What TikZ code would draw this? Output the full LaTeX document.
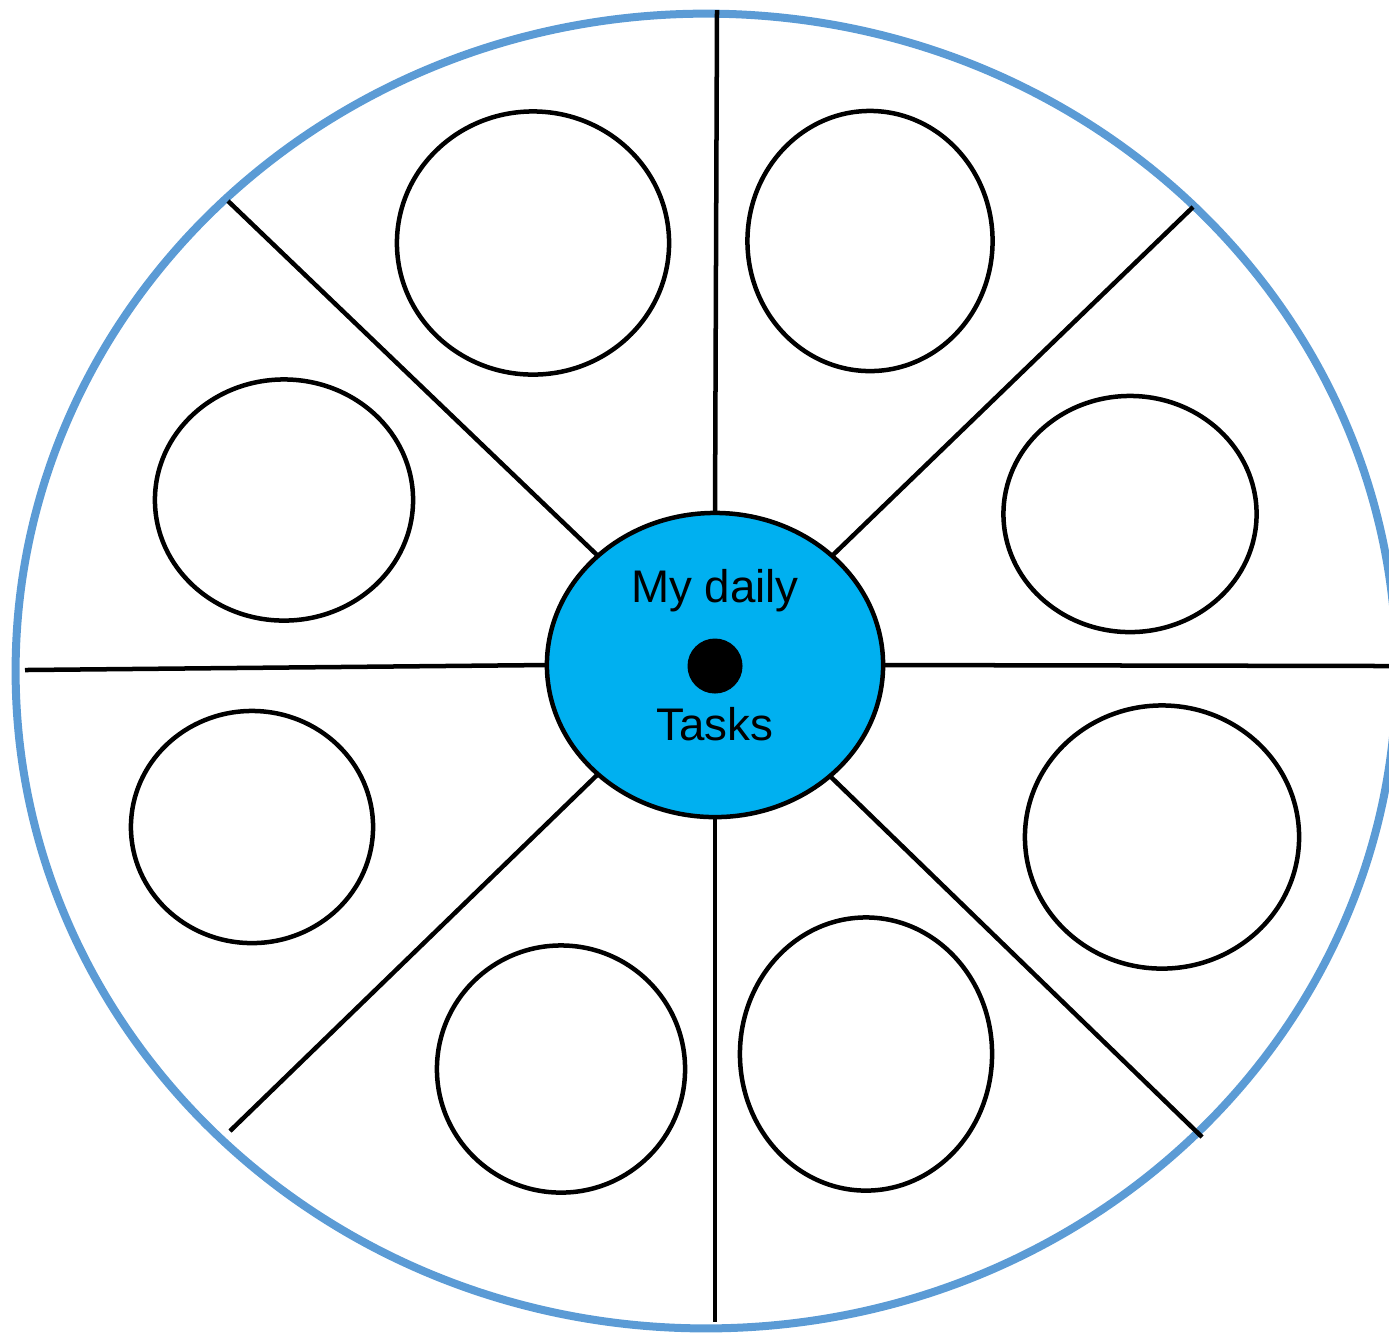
\documentclass[tikz,border=0pt]{standalone}
\usepackage{fontspec}
\setmainfont{Liberation Sans}
\usetikzlibrary{shapes.geometric}
\definecolor{rimblue}{HTML}{5B9BD5}
\definecolor{hubcyan}{HTML}{00B0F0}
\tikzset{
  slot/.style={ellipse, draw=black, line width=0.045cm, inner sep=0pt, outer sep=0pt},
  spoke/.style={draw=black, line width=0.045cm},
  hub/.style={ellipse, draw=black, fill=hubcyan, line width=0.045cm, inner sep=0pt, outer sep=0pt, minimum width=3.36cm, minimum height=3.04cm},
  rim/.style={ellipse, draw=rimblue, line width=0.08cm, inner sep=0pt, outer sep=0pt, minimum width=13.80cm, minimum height=13.14cm},
  lbl/.style={font=\fontsize{13}{15}\selectfont, inner sep=0pt, anchor=base}
}
\begin{document}
\begin{tikzpicture}[x=0.01cm, y=-0.01cm]
\useasboundingbox (0,0) rectangle (1389,1335);
\node[rim] (rim) at (706,671) {};
\node[hub] (hub) at (715,665) {};
% outer spoke ends
\coordinate (eT) at (717,10);
\coordinate (eUR) at (1193,207);
\coordinate (eR) at (1389,666);
\coordinate (eLR) at (1202,1137);
\coordinate (eB) at (715,1322);
\coordinate (eLL) at (230,1131);
\coordinate (eL) at (25,670);
\coordinate (eUL) at (228,201);
\draw[spoke] (hub.90) -- (eT);
\draw[spoke] (hub.43.7) -- (eUR);
\draw[spoke] (hub.0) -- (eR);
\draw[spoke] (hub.-44.7) -- (eLR);
\draw[spoke] (hub.-90) -- (eB);
\draw[spoke] (hub.223.8) -- (eLL);
\draw[spoke] (hub.180) -- (eL);
\draw[spoke] (hub.137) -- (eUL);
% task slots
\node[slot, minimum width=2.72cm, minimum height=2.63cm] (s1) at (533,243) {};
\node[slot, minimum width=2.45cm, minimum height=2.60cm] (s2) at (870,241) {};
\node[slot, minimum width=2.58cm, minimum height=2.41cm] (s3) at (284,500) {};
\node[slot, minimum width=2.53cm, minimum height=2.36cm] (s4) at (1130,514) {};
\node[slot, minimum width=2.42cm, minimum height=2.32cm] (s5) at (252,827) {};
\node[slot, minimum width=2.74cm, minimum height=2.63cm] (s6) at (1162,837) {};
\node[slot, minimum width=2.48cm, minimum height=2.47cm] (s7) at (561,1069) {};
\node[slot, minimum width=2.52cm, minimum height=2.73cm] (s8) at (866,1054) {};
% hub content
\node[circle, fill=black, inner sep=0pt, minimum size=0.55cm] (dot) at (715,666) {};
\node[lbl] (t1) at (715,602) {My daily};
\node[lbl] (t2) at (715,740) {Tasks};
\end{tikzpicture}
\end{document}
